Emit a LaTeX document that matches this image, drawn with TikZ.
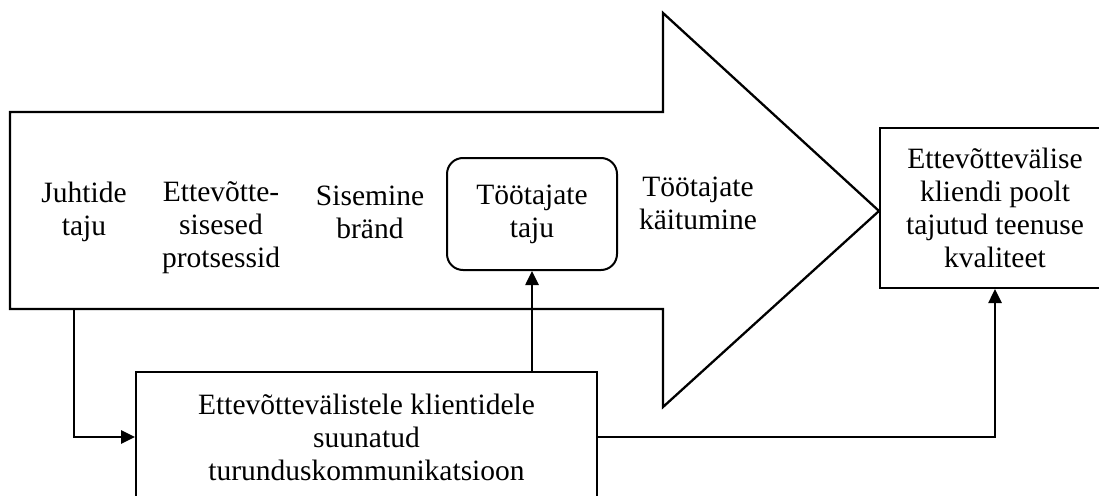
\documentclass[tikz,border=0pt]{standalone}
\usepackage{fontspec}
\setmainfont{Liberation Serif}
\usetikzlibrary{arrows.meta}
\begin{document}
\begin{tikzpicture}[x=1pt,y=-1pt,
  txt/.style={align=center,inner sep=0pt,font=\fontsize{29.5}{33}\selectfont},
  outline/.style={draw=black,line width=2.3pt,line join=miter},
  boxnode/.style={txt,draw=black,line width=2pt},
  conn/.style={draw=black,line width=2.6pt,-{Triangle[length=14pt,width=13pt]}}]
\useasboundingbox (0,0) rectangle (1099,495);
\clip (0,0) rectangle (1099,495);
% big block arrow
\draw[outline] (10,112) -- (663,112) -- (663,13) -- (879,211) -- (663,407)
  -- (663,309) -- (10,309) -- cycle;
\coordinate (shaftL) at (74,309);
% stages inside the arrow
\node[txt] (jt) at (84,212) {Juhtide\\taju};
\node[txt] (ep) at (221,228) {Ettevõtte-\\sisesed\\protsessid};
\node[txt] (sb) at (370,212) {Sisemine\\bränd};
\node[boxnode,rounded corners=16pt,minimum width=170pt,minimum height=112pt] (tt) at (532,214) {Töötajate\\taju};
\node[txt] (tk) at (698,203) {Töötajate\\käitumine};
% outcome box
\node[boxnode,minimum width=230pt,minimum height=160pt] (q) at (995,208)
  {Ettevõttevälise\\kliendi poolt\\tajutud teenuse\\kvaliteet};
% marketing communication box
\node[boxnode,minimum width=461pt,minimum height=130pt] (mk) at (366.5,437)
  {Ettevõttevälistele klientidele\\suunatud\\turunduskommunikatsioon};
% connectors
\draw[conn] (shaftL) |- (mk.west);
\draw[conn] (tt.south |- mk.north) -- (tt.south);
\draw[conn] (mk.east) -| (q.south);
\end{tikzpicture}
\end{document}
